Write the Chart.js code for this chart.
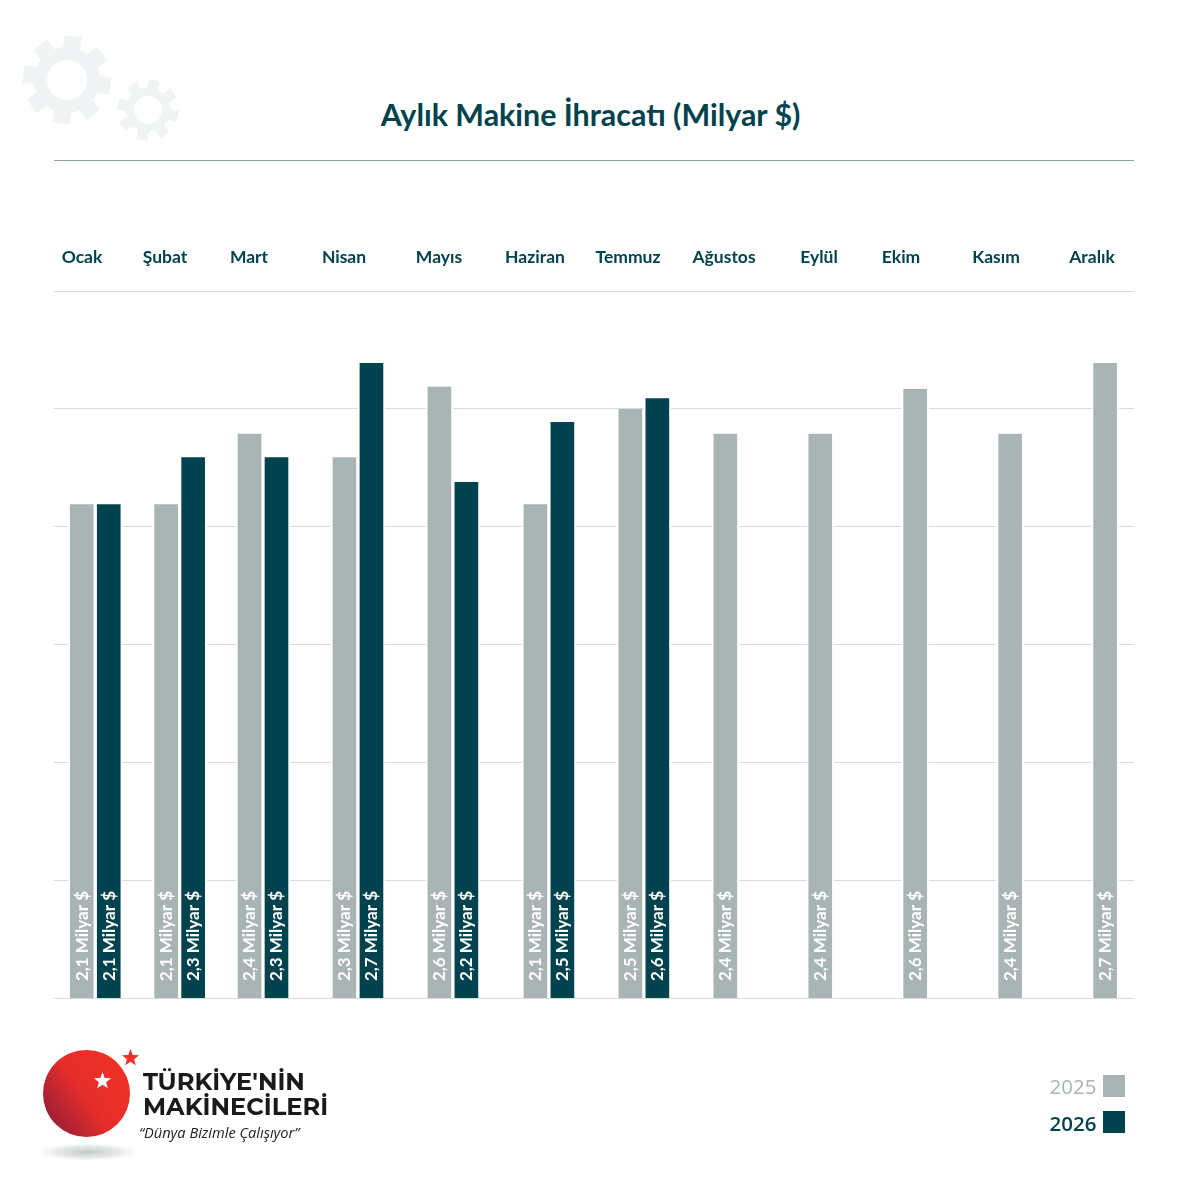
<!DOCTYPE html>
<html lang="tr">
<head>
<meta charset="utf-8">
<title>Aylık Makine İhracatı</title>
<script src="https://cdn.jsdelivr.net/npm/chart.js@4"></script>
<style>
    html, body { margin: 0; padding: 0; background: #fff; }
    #page { position: relative; width: 1181px; height: 1181px; overflow: hidden; font-family: Lato, sans-serif; }
    #page > * { position: absolute; }
    #chart { left: 0; top: 0; }
    #title { left: 0; width: 1181px; top: 94px; margin: 0; text-align: center; color: #00424d; font: 700 30.4px/40px Lato, sans-serif; }
    #rule { left: 54px; top: 160px; width: 1080px; height: 1px; background: #86a3a8; }
    #deco { left: 0; top: 0; }
    #logo { left: 0; top: 1030px; }
    .brand { color: #1a1a1a; font: 700 24.2px/25px Montserrat, Inter, sans-serif; white-space: nowrap; left: 143px; }
    #slogan { left: 139px; top: 1122px; color: #222; font: italic 400 14.6px/20px "Open Sans", sans-serif; white-space: nowrap; }
    .leg-text { left: 1049.5px; font: 400 20.5px/24px "Open Sans", sans-serif; }
    .leg-box { left: 1103px; width: 22px; height: 22px; }
</style>
</head>
<body>
<div id="page">
    <svg id="deco" width="200" height="150" xmlns="http://www.w3.org/2000/svg"></svg>
    <h1 id="title">Aylık Makine İhracatı (Milyar $)</h1>
    <div id="rule"></div>
    <canvas id="chart" width="1181" height="1181"></canvas>

    <svg id="logo" width="140" height="140" xmlns="http://www.w3.org/2000/svg">
        <defs>
            <linearGradient id="ball" x1="0.95" y1="0.2" x2="0.1" y2="0.8">
                <stop offset="0" stop-color="#ef3127"/>
                <stop offset="0.55" stop-color="#e52d2a"/>
                <stop offset="1" stop-color="#a01f35"/>
            </linearGradient>
            <radialGradient id="shade">
                <stop offset="0" stop-color="#c4c8c8"/>
                <stop offset="1" stop-color="#ffffff"/>
            </radialGradient>
        </defs>
        <ellipse cx="88" cy="122" rx="50" ry="9" fill="url(#shade)"/>
        <circle cx="86.5" cy="63.5" r="43.5" fill="url(#ball)"/>
        <polygon id="starWhite" fill="#fff" points=""/>
        <polygon id="starRed" fill="#ee3027" points=""/>
    </svg>
    <div class="brand" style="top:1069px">TÜRKİYE'NİN</div>
    <div class="brand" style="top:1094px">MAKİNECİLERİ</div>
    <div id="slogan">“Dünya Bizimle Çalışıyor”</div>

    <div class="leg-text" style="top:1074px;color:#a9b5b4">2025</div>
    <div class="leg-box" style="top:1075px;background:#a9b5b4"></div>
    <div class="leg-text" style="top:1111px;color:#00424d;font-weight:600">2026</div>
    <div class="leg-box" style="top:1111px;background:#00424d"></div>
</div>

<script>
// chart data
const months = ["Ocak", "Şubat", "Mart", "Nisan", "Mayıs", "Haziran", "Temmuz", "Ağustos", "Eylül", "Ekim", "Kasım", "Aralık"];
const values2025 = [2.096, 2.096, 2.395, 2.295, 2.595, 2.096, 2.5, 2.395, 2.395, 2.585, 2.395, 2.695];
const values2026 = [2.096, 2.295, 2.295, 2.695, 2.19, 2.445, 2.545, null, null, null, null, null];
const labels2025 = ["2,1", "2,1", "2,4", "2,3", "2,6", "2,1", "2,5", "2,4", "2,4", "2,6", "2,4", "2,7"];
const labels2026 = ["2,1", "2,3", "2,3", "2,7", "2,2", "2,5", "2,6", null, null, null, null, null];
const yTicks = [0, 0.5, 1, 1.5, 2, 2.5, 3];

// the months are not evenly spaced in the picture, so x is a linear scale of slots
const monthSlots = [0, 8, 15.9, 24.9, 33.9, 43, 52, 61, 70, 79, 88, 97];
const monthLabelX = [82, 165, 249, 344, 439, 535, 628, 724, 819, 901, 996, 1092];

const DARK = "#00424d";
const GREY = "#a9b5b4";

// month names above the plot and rotated value labels inside the bars
const barText = {
    id: "barText",
    afterDraw(chart) {
        const ctx = chart.ctx;
        ctx.save();
        ctx.fillStyle = DARK;
        ctx.font = "700 17.5px Lato, sans-serif";
        ctx.textAlign = "center";
        ctx.textBaseline = "alphabetic";
        months.forEach((m, i) => ctx.fillText(m, monthLabelX[i], 263));

        [labels2025, labels2026].forEach((labels, d) => {
            chart.getDatasetMeta(d).data.forEach((bar, i) => {
                if (!labels[i]) return;
                ctx.save();
                ctx.translate(bar.x + 6, 981);
                ctx.rotate(-Math.PI / 2);
                ctx.fillStyle = "#fff";
                ctx.font = "700 17px Lato, sans-serif";
                ctx.textAlign = "left";
                ctx.fillText(labels[i] + " Milyar $", 0, 0);
                ctx.restore();
            });
        });
        ctx.restore();
    }
};

function toPoints(values) {
    return monthSlots.map((s, i) => ({ x: s, y: values[i] }));
}

new Chart(document.getElementById("chart"), {
    type: "bar",
    data: {
        datasets: [
            { label: "2025", data: toPoints(values2025), backgroundColor: GREY },
            { label: "2026", data: toPoints(values2026), backgroundColor: DARK }
        ]
    },
    options: {
        responsive: false,
        animation: false,
        layout: { padding: { left: 54, right: 47, top: 291, bottom: 182.5 } },
        datasets: {
            bar: {
                barThickness: 27,
                borderColor: "#fff",
                borderWidth: { left: 2, right: 2, top: 0, bottom: 0 },
                borderSkipped: false
            }
        },
        scales: {
            x: {
                type: "linear",
                min: -3.91,
                max: 98.46,
                offset: false,
                grid: { display: false, drawTicks: false },
                border: { display: false },
                ticks: { display: false }
            },
            y: {
                min: 0,
                max: 3,
                afterBuildTicks(scale) { scale.ticks = yTicks.map(v => ({ value: v })); },
                grid: { color: "#d8dbdb", lineWidth: 1, drawTicks: false },
                border: { display: false },
                ticks: { display: false }
            }
        },
        plugins: { legend: { display: false }, tooltip: { enabled: false }, title: { display: false } }
    },
    plugins: [barText]
});

// background gears
function gear(svg, cx, cy, outer, body, hole, toothW, start) {
    const NS = "http://www.w3.org/2000/svg";
    const g = document.createElementNS(NS, "g");
    g.setAttribute("fill", "#f1f4f4");
    for (let i = 0; i < 8; i++) {
        const t = document.createElementNS(NS, "rect");
        t.setAttribute("x", cx - toothW / 2);
        t.setAttribute("y", cy - outer);
        t.setAttribute("width", toothW);
        t.setAttribute("height", outer - body + 4);
        t.setAttribute("transform", "rotate(" + (start + i * 45) + " " + cx + " " + cy + ")");
        g.appendChild(t);
    }
    const ring = document.createElementNS(NS, "circle");
    ring.setAttribute("cx", cx);
    ring.setAttribute("cy", cy);
    ring.setAttribute("r", (body + hole) / 2);
    ring.setAttribute("fill", "none");
    ring.setAttribute("stroke", "#f1f4f4");
    ring.setAttribute("stroke-width", body - hole);
    g.appendChild(ring);
    svg.appendChild(g);
}
const deco = document.getElementById("deco");
gear(deco, 67, 80, 44, 33, 20, 17, 8);
gear(deco, 148, 110, 30.5, 22, 14, 11, 12);

// logo stars
function starPoints(cx, cy, r) {
    const pts = [];
    for (let i = 0; i < 10; i++) {
        const rad = i % 2 === 0 ? r : r * 0.42;
        const a = -Math.PI / 2 + i * Math.PI / 5;
        pts.push((cx + rad * Math.cos(a)).toFixed(1) + "," + (cy + rad * Math.sin(a)).toFixed(1));
    }
    return pts.join(" ");
}
document.getElementById("starWhite").setAttribute("points", starPoints(102.5, 51, 9));
document.getElementById("starRed").setAttribute("points", starPoints(130.5, 28, 9));
</script>
</body>
</html>
